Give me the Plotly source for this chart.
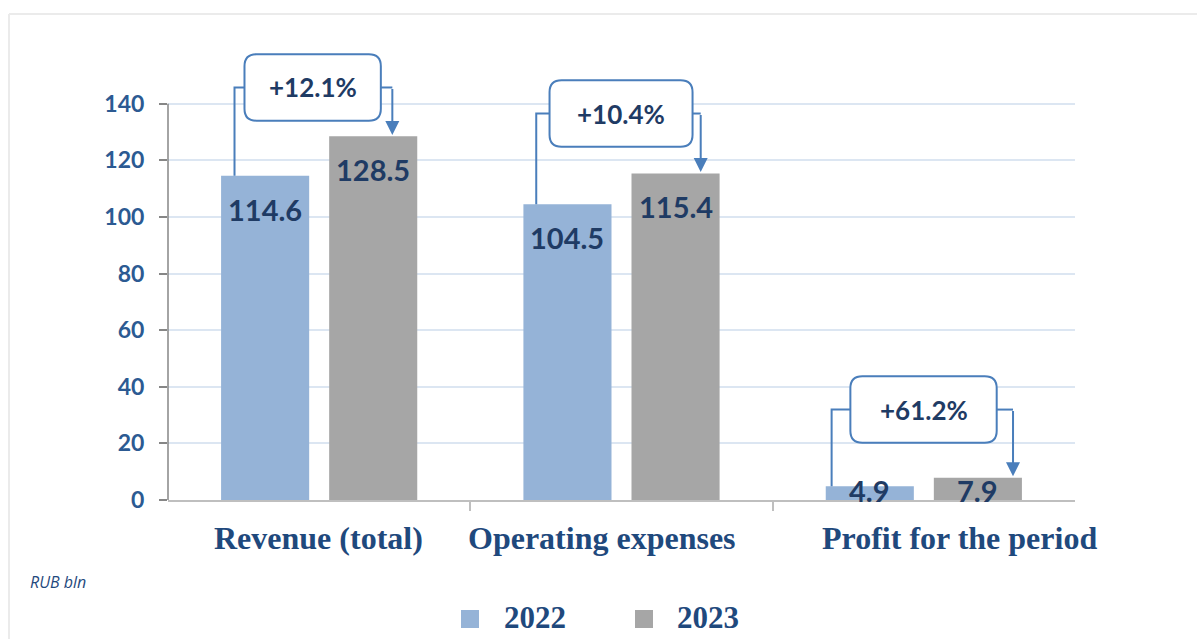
import plotly.graph_objects as go

# ---------------- data ----------------
categories = ["Revenue (total)", "Operating expenses", "Profit for the period"]
series_names = ["2022", "2023"]
values_2022 = [114.6, 104.5, 4.9]
values_2023 = [128.5, 115.4, 7.9]
changes = ["+12.1%", "+10.4%", "+61.2%"]
y_ticks = [0, 20, 40, 60, 80, 100, 120, 140]
unit_label = "RUB bln"

# ---------------- layout constants ----------------
W, H = 1197, 639
ML, MR, MT, MB = 168, 122, 33, 139
Y_MAX = 165
PW, PH = W - ML - MR, H - MT - MB
PPU = PH / Y_MAX            # pixels per value unit
PPC = PW / 3                # pixels per category unit

C_2022 = "#95B3D7"
C_2023 = "#A6A6A6"
C_LINE = "#4A7EBB"
C_NAVY = "#1F497D"
C_LABEL = "#1F3B64"
C_TICK = "#2C5A92"

# callout geometry (category-unit x offsets, value-unit offsets)
callout_geom = [
    dict(xl=-0.280, x0=-0.247, x1=0.204, xr=0.242, lift=5.5),
    dict(xl=-0.282, x0=-0.238, x1=0.235, xr=0.262, lift=9.4),
    dict(xl=-0.305, x0=-0.243, x1=0.241, xr=0.295, lift=12.3),
]
BOX_H = 23.5
cat_label_shift = [-1, -20, 36]   # px, horizontal placement of category labels

def px_x(px):
    return (px - ML) / PW

def px_y(py):
    return (H - MB - py) / PH

fig = go.Figure()
x_pos = list(range(len(categories)))
fig.add_trace(go.Bar(x=x_pos, y=values_2022, name=series_names[0],
                     marker=dict(color=C_2022, line=dict(width=0)), showlegend=False))
fig.add_trace(go.Bar(x=x_pos, y=values_2023, name=series_names[1],
                     marker=dict(color=C_2023, line=dict(width=0)), showlegend=False))

BARGAP, GROUPGAP = 0.285, 0.185
slot = (1 - BARGAP) / 2
bar_off = [-slot / 2, slot / 2]

annotations = []
shapes = []

# data labels
for si, vals in enumerate([values_2022, values_2023]):
    for ci, v in enumerate(vals):
        top = max(v - 14 / PPU, 29 / PPU)
        annotations.append(dict(x=ci + bar_off[si], y=top, xref="x", yref="y",
                                text="<b>%.1f</b>" % v, showarrow=False,
                                yanchor="top", xanchor="center",
                                font=dict(family="Lato", size=29, color=C_LABEL)))

# category labels
for ci, c in enumerate(categories):
    annotations.append(dict(x=ci, y=0, xref="x", yref="y", text="<b>%s</b>" % c,
                            showarrow=False, yanchor="top", xanchor="center",
                            xshift=cat_label_shift[ci], yshift=-18,
                            font=dict(family="Liberation Serif", size=32, color=C_NAVY)))

# callouts
rx, ry = 12 / PPC, 12 / PPU
for ci, g in enumerate(callout_geom):
    v1, v2 = values_2022[ci], values_2023[ci]
    y0 = v2 + g["lift"]
    y1 = y0 + BOX_H
    ym = (y0 + y1) / 2
    x0, x1 = ci + g["x0"], ci + g["x1"]
    path = (f"M{x0+rx},{y0} L{x1-rx},{y0} Q{x1},{y0} {x1},{y0+ry} "
            f"L{x1},{y1-ry} Q{x1},{y1} {x1-rx},{y1} L{x0+rx},{y1} "
            f"Q{x0},{y1} {x0},{y1-ry} L{x0},{y0+ry} Q{x0},{y0} {x0+rx},{y0} Z")
    shapes.append(dict(type="path", path=path, xref="x", yref="y",
                       line=dict(color=C_LINE, width=2), fillcolor="white", layer="above"))
    xl = ci + g["xl"]
    shapes.append(dict(type="path", path=f"M{xl},{v1} L{xl},{ym} L{x0},{ym}",
                       xref="x", yref="y", line=dict(color=C_LINE, width=2), layer="above"))
    xr = ci + g["xr"]
    shapes.append(dict(type="line", x0=x1, x1=xr, y0=ym, y1=ym, xref="x", yref="y",
                       line=dict(color=C_LINE, width=2), layer="above"))
    annotations.append(dict(x=xr, y=v2 + 0.5, ax=xr, ay=ym, xref="x", yref="y",
                            axref="x", ayref="y", text="", showarrow=True,
                            arrowhead=2, arrowsize=1.4, arrowwidth=2, arrowcolor=C_LINE))
    annotations.append(dict(x=(x0 + x1) / 2, y=ym, xref="x", yref="y",
                            text="<b>%s</b>" % changes[ci], showarrow=False,
                            font=dict(family="Lato", size=26, color=C_LABEL)))

# y axis line from 0 to 140
shapes.append(dict(type="line", xref="paper", yref="y", x0=0, x1=0, y0=0, y1=max(y_ticks),
                   line=dict(color="#868686", width=1.5)))

# frame lines (top and left)
shapes.append(dict(type="line", xref="paper", yref="paper", x0=px_x(9), x1=px_x(W),
                   y0=px_y(14), y1=px_y(14), line=dict(color="#EBEBEB", width=2)))
shapes.append(dict(type="line", xref="paper", yref="paper", x0=px_x(9), x1=px_x(9),
                   y0=px_y(14), y1=px_y(H), line=dict(color="#EBEBEB", width=2)))

# manual legend
legend_sq_x = [470, 644]
legend_tx_x = [502, 675]
for i, (nm, col) in enumerate(zip(series_names, [C_2022, C_2023])):
    shapes.append(dict(type="rect", xref="paper", yref="paper",
                       x0=px_x(legend_sq_x[i] - 9), x1=px_x(legend_sq_x[i] + 9),
                       y0=px_y(628), y1=px_y(610), fillcolor=col, line=dict(width=0)))
    annotations.append(dict(x=px_x(legend_tx_x[i]), y=px_y(617), xref="paper", yref="paper",
                            text="<b>%s</b>" % nm, showarrow=False, xanchor="left",
                            yanchor="middle",
                            font=dict(family="Liberation Serif", size=31, color=C_NAVY)))

# unit label
annotations.append(dict(x=px_x(28), y=px_y(582), xref="paper", yref="paper",
                        text="<i>%s</i>" % unit_label, showarrow=False, xanchor="left",
                        yanchor="middle", font=dict(family="Open Sans", size=16, color=C_NAVY)))

fig.update_layout(
    width=W, height=H, margin=dict(l=ML, r=MR, t=MT, b=MB),
    paper_bgcolor="white", plot_bgcolor="white",
    barmode="group", bargap=BARGAP, bargroupgap=GROUPGAP,
    showlegend=False,
    annotations=annotations, shapes=shapes,
    xaxis=dict(range=[-0.5, 2.5], tickvals=x_pos, showticklabels=False,
               showgrid=False, zeroline=False, showline=True, linecolor="#BFBFBF",
               linewidth=2, ticks="",
               minor=dict(tickvals=[0.5, 1.5], ticks="outside", ticklen=9,
                          tickcolor="#BFBFBF", tickwidth=2, showgrid=False)),
    yaxis=dict(range=[0, Y_MAX], tickvals=y_ticks,
               ticktext=["<b>%d</b>" % t for t in y_ticks],
               tickfont=dict(family="Lato", size=23, color=C_TICK),
               showgrid=True, gridcolor="#DCE6F2", gridwidth=2, zeroline=False,
               showline=False, ticks="outside", ticklen=8, tickcolor="#868686",
               tickwidth=1.5, ticklabelstandoff=10),
)

fig.write_html("out.html", config={"displayModeBar": False},
               post_script="document.body.style.margin='0';")
